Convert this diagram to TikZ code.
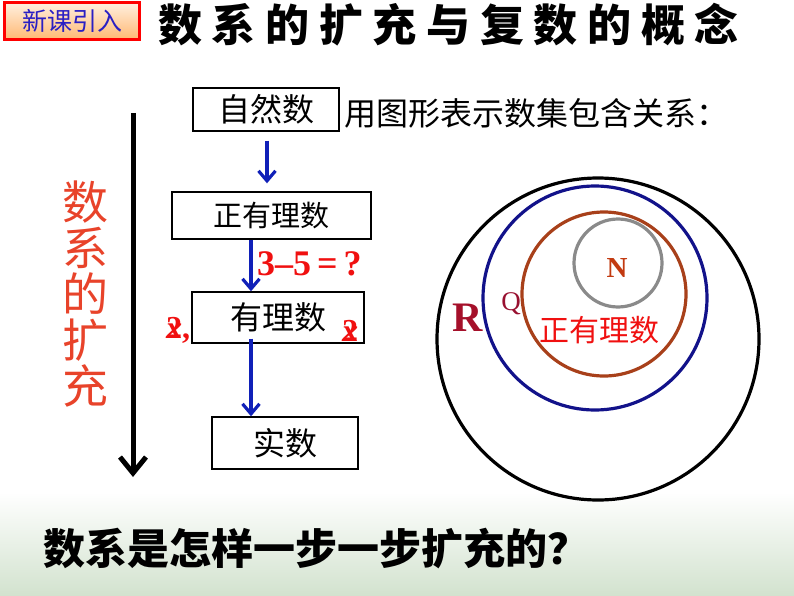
\documentclass[tikz,border=0pt]{standalone}
\usepackage{fontspec}
\setmainfont{Liberation Serif}
\newfontfamily\cjk{Noto Sans CJK SC}
\newfontfamily\titlefont[LetterSpace=22]{Noto Sans CJK SC}
\usetikzlibrary{arrows.meta}
\definecolor{badgeblue}{HTML}{2A1FC4}
\definecolor{flowblue}{HTML}{1020B8}
\definecolor{wordred}{HTML}{E8432A}
\definecolor{markred}{HTML}{F01010}
\definecolor{setnavy}{HTML}{12128A}
\definecolor{setbrown}{HTML}{A8401A}
\definecolor{setgray}{HTML}{8A8A8A}
\definecolor{nred}{HTML}{C23A10}
\definecolor{qred}{HTML}{981030}
\definecolor{rred}{HTML}{A5102A}
\definecolor{bandgreen}{HTML}{D2E2CE}
\newcommand{\fsz}[1]{\fontsize{#1}{#1}\selectfont}

\begin{document}
\begin{tikzpicture}[x=1pt,y=-1pt,
  numbox/.style={draw, rectangle, black, line width=1.4pt, inner sep=0pt, font=\cjk\fsz{32}},
  flow/.style={draw=flowblue, line width=3.2pt, arrows={-Straight Barb[length=10pt,width=17pt]}},
  setring/.style={draw, circle, line width=3.2pt, inner sep=0pt},
  markx/.style={markred, font=\bfseries\fsz{32}, inner sep=0pt}]
\useasboundingbox (0,0) rectangle (794,596);

% bottom band
\shade[top color=white, bottom color=bandgreen] (0,492) rectangle (794,596);

% heading
\node[draw=red, line width=3pt, top color=orange!12, bottom color=orange!55, minimum width=135, minimum height=37, inner sep=0pt,
      text=badgeblue, font=\cjk\fsz{25}] (badge) at (72,21) {新课引入};
\node[font=\titlefont\bfseries\fsz{44}, anchor=west, inner sep=0pt] (title) at (158,25) {数系的扩充与复数的概念};

% chain of number sets
\node[numbox, minimum width=146, minimum height=43] (nat) at (266,109.5) {自然数};
\node[numbox, minimum width=199, minimum height=47, font=\cjk\fsz{29}] (posrat) at (271.5,215.5) {正有理数};
\node[numbox, minimum width=172, minimum height=51] (rat) at (278,317.5) {有理数};
\node[numbox, minimum width=146, minimum height=52] (real) at (285,443) {实数};

\draw[flow, shorten <=9pt, shorten >=8pt] (nat.south -| 267,0) -- (posrat.north -| 267,0);
\draw[flow] (posrat.south -| 251,0) -- (rat.north -| 251,0);
\draw[flow, shorten <=-5pt] (rat.south -| 251,0) -- (real.north -| 251,0);

\node[text=markred, font=\bfseries\fsz{36}, anchor=west, inner sep=0pt] (sub) at (257,264) {3–5\,=\,?};
\node[markx] (xl) at (178,330) {\rlap{2}\textit{x},};
\node[markx] (xr) at (350,331) {\rlap{2}\textit{x}};

\node[anchor=west, inner sep=0pt, font=\cjk\fsz{32}] (hint) at (344,113) {用图形表示数集包含关系：};

% growth arrow
\coordinate (gtop) at (133,113);
\coordinate (gbot) at (133,477);
\draw[line width=5pt, -{Straight Barb[length=16pt,width=26pt,line width=5pt]}] (gtop) -- (gbot);
\node[text=wordred, font=\cjk\fsz{46}, align=center, inner sep=0pt] (grow) at (85,294)
  {\baselineskip=50pt 数\\系\\的\\扩\\充};

% nested sets
\node[setring, black, minimum size=322] (setR) at (598,339) {};
\node[setring, setnavy, minimum size=224] (setQ) at (595,298) {};
\node[setring, setbrown, minimum size=164] (setP) at (604,294) {};
\node[setring, setgray, minimum size=88] (setN) at (618,263) {};
\node[text=nred, font=\bfseries\fsz{29}, inner sep=0pt] (labN) at (617,268) {N};
\node[text=markred, font=\cjk\fsz{30}, inner sep=0pt] (labP) at (599,330) {正有理数};
\node[text=qred, font=\fsz{27}, inner sep=0pt] (labQ) at (511,304) {Q};
\node[text=rred, font=\bfseries\fsz{42}, inner sep=0pt] (labR) at (468,318) {R};

% question
\node[anchor=west, inner sep=0pt, font=\cjk\bfseries\fsz{42}] (ask) at (43,549) {数系是怎样一步一步扩充的？};
\end{tikzpicture}
\end{document}
